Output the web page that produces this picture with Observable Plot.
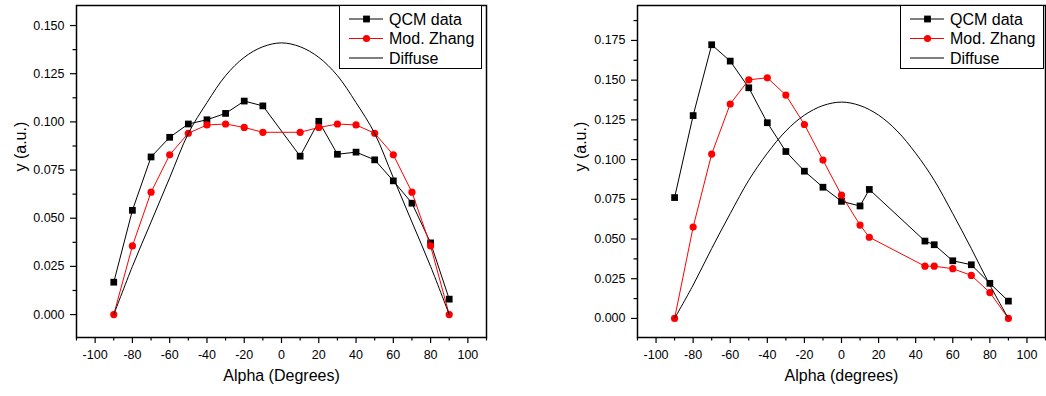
<!DOCTYPE html>
<html><head><meta charset="utf-8">
<script src="https://cdn.jsdelivr.net/npm/d3@7"></script>
<script src="https://cdn.jsdelivr.net/npm/@observablehq/plot@0.6"></script>
<style>
body{margin:0;background:#fff;}
#wrap{position:relative;width:1046px;height:396px;font-family:"Liberation Sans",Arial,sans-serif;overflow:hidden;}
.panel{position:absolute;top:0;}
.legend{position:absolute;top:0;}
</style></head><body><div id="wrap"></div>
<script>
// ---- data ----
const xMajorTicks = [-100,-80,-60,-40,-20,0,20,40,60,80,100];
const xMinorTicks = [-110,-90,-70,-50,-30,-10,10,30,50,70,90,110];
const leftYTicks = [0,0.025,0.05,0.075,0.1,0.125,0.15];
const leftYMinor = [0.0125,0.0375,0.0625,0.0875,0.1125,0.1375];
const rightYTicks = [0,0.025,0.05,0.075,0.1,0.125,0.15,0.175];
const rightYMinor = [0.0125,0.0375,0.0625,0.0875,0.1125,0.1375,0.1625,0.1875];

const leftAlpha = [-90,-80,-70,-60,-50,-40,-30,-20,-10,10,20,30,40,50,60,70,80,90];
const leftQCM   = [0.0168,0.0541,0.0818,0.0920,0.0989,0.1011,0.1044,0.1108,0.1083,0.0822,0.1003,0.0832,0.0843,0.0803,0.0694,0.0578,0.0372,0.0080];
const leftZhang = [0,0.0356,0.0635,0.0829,0.0941,0.0984,0.0989,0.0971,0.0946,0.0946,0.0971,0.0989,0.0984,0.0941,0.0829,0.0635,0.0356,0];

const rightAlpha = [-90,-80,-70,-60,-50,-40,-30,-20,-10,0,10,15,45,50,60,70,80,90];
const rightQCM   = [0.0761,0.1277,0.1723,0.1620,0.1452,0.1232,0.1051,0.0927,0.0826,0.0737,0.0708,0.0812,0.0487,0.0464,0.0363,0.0338,0.0221,0.0109];
const rightZhang = [0,0.0575,0.1035,0.1350,0.1502,0.1515,0.1406,0.1221,0.0997,0.0776,0.0588,0.0511,0.0329,0.0329,0.0313,0.0271,0.0163,0];

const diffuseAlpha = [-90,-80,-70,-60,-50,-40,-30,-20,-10,0,10,20,30,40,50,60,70,80,90];
const leftDiffuse  = [0,0.025,0.048,0.071,0.094,0.110,0.124,0.1335,0.139,0.141,0.139,0.1335,0.124,0.110,0.094,0.071,0.048,0.025,0];
const rightDiffuse = [0,0.021,0.044,0.066,0.087,0.104,0.118,0.128,0.134,0.1362,0.134,0.128,0.118,0.104,0.087,0.066,0.044,0.021,0];

const seriesNames = ["QCM data","Mod. Zhang","Diffuse"];

const FONT = '"Liberation Sans",Arial,sans-serif';

function pairs(xs, ys){ return xs.map((a,i)=>({a, v: ys[i]})); }

function panel(o){
  const qcm = pairs(o.qcmAlpha, o.qcm);
  const zh = pairs(o.zhAlpha, o.zh);
  const df = pairs(diffuseAlpha, o.diff);
  const chart = Plot.plot({
    width: o.width, height: 396,
    marginTop: 5, marginBottom: 59, marginLeft: o.marginLeft, marginRight: o.marginRight,
    style: {fontFamily: FONT, fontSize: "12.5px", color: "#000", background: "transparent"},
    x: {domain: [-110,110]},
    y: {domain: o.yDomain},
    marks: [
      Plot.axisX(xMajorTicks, {tickSize: 6, tickPadding: 7, tickFormat: d => String(d), label: null, strokeWidth: 1.2}),
      Plot.axisX(xMinorTicks, {tickSize: 3.5, tickFormat: () => "", label: null, strokeWidth: 1.2}),
      Plot.axisY(o.yTicks, {tickSize: 6, tickPadding: 6, tickFormat: d3.format(".3f"), label: null, strokeWidth: 1.2}),
      Plot.axisY(o.yMinor, {tickSize: 3.5, tickFormat: () => "", label: null, strokeWidth: 1.2}),
      Plot.line(qcm, {x: "a", y: "v", stroke: "#000", strokeWidth: 1}),
      Plot.dot(qcm, {x: "a", y: "v", symbol: "square", r: 3.8, fill: "#000", stroke: "none"}),
      Plot.line(zh, {x: "a", y: "v", stroke: "#ff0000", strokeWidth: 1}),
      Plot.dot(zh, {x: "a", y: "v", symbol: "circle", r: 3.6, fill: "#ff0000", stroke: "none"}),
      Plot.line(df, {x: "a", y: "v", stroke: "#000", strokeWidth: 1, curve: "catmull-rom"}),
      Plot.frame({stroke: "#000", strokeWidth: 1.5}),
      Plot.text([o.xLabel], {frameAnchor: "bottom", dy: 43, fontSize: 16}),
      Plot.text(["y (a.u.)"], {frameAnchor: "left", dx: o.yLabelDx, rotate: -90, fontSize: 16})
    ]
  });
  chart.classList.add("panel");
  chart.style.left = o.left + "px";
  return chart;
}

function legend(left, width){
  const ns = "http://www.w3.org/2000/svg";
  const svg = document.createElementNS(ns, "svg");
  svg.setAttribute("class","legend");
  svg.setAttribute("width", width); svg.setAttribute("height", 70);
  svg.style.left = left + "px";
  let h = `<rect x="0.5" y="5.5" width="${width-1}" height="63" fill="#fff" stroke="#000" stroke-width="1"/>`;
  const rows = [19, 38.5, 58];
  rows.forEach((cy, i) => {
    const col = i === 1 ? "#ff0000" : "#000";
    h += `<line x1="10" x2="44" y1="${cy}" y2="${cy}" stroke="${col}" stroke-width="1"/>`;
    if (i === 0) h += `<rect x="${27.5-3.4}" y="${cy-3.4}" width="6.8" height="6.8" fill="#000"/>`;
    if (i === 1) h += `<circle cx="27.5" cy="${cy}" r="3.6" fill="#ff0000"/>`;
    h += `<text x="50" y="${cy+5.6}" font-family='${FONT}' font-size="16" fill="#000">${seriesNames[i]}</text>`;
  });
  svg.innerHTML = h;
  return svg;
}

const wrap = document.getElementById("wrap");
wrap.appendChild(panel({
  left: 0, width: 523, marginLeft: 76, marginRight: 37,
  yDomain: [-0.0119, 0.1604], yTicks: leftYTicks, yMinor: leftYMinor,
  qcmAlpha: leftAlpha, qcm: leftQCM, zhAlpha: leftAlpha, zh: leftZhang, diff: leftDiffuse,
  xLabel: "Alpha (Degrees)", yLabelDx: -56
}));
wrap.appendChild(panel({
  left: 523, width: 523, marginLeft: 114, marginRight: 1,
  yDomain: [-0.012, 0.197], yTicks: rightYTicks, yMinor: rightYMinor,
  qcmAlpha: rightAlpha, qcm: rightQCM, zhAlpha: rightAlpha, zh: rightZhang, diff: rightDiffuse,
  xLabel: "Alpha (degrees)", yLabelDx: -57
}));
wrap.appendChild(legend(339, 143));
wrap.appendChild(legend(900, 144));
</script></body></html>
